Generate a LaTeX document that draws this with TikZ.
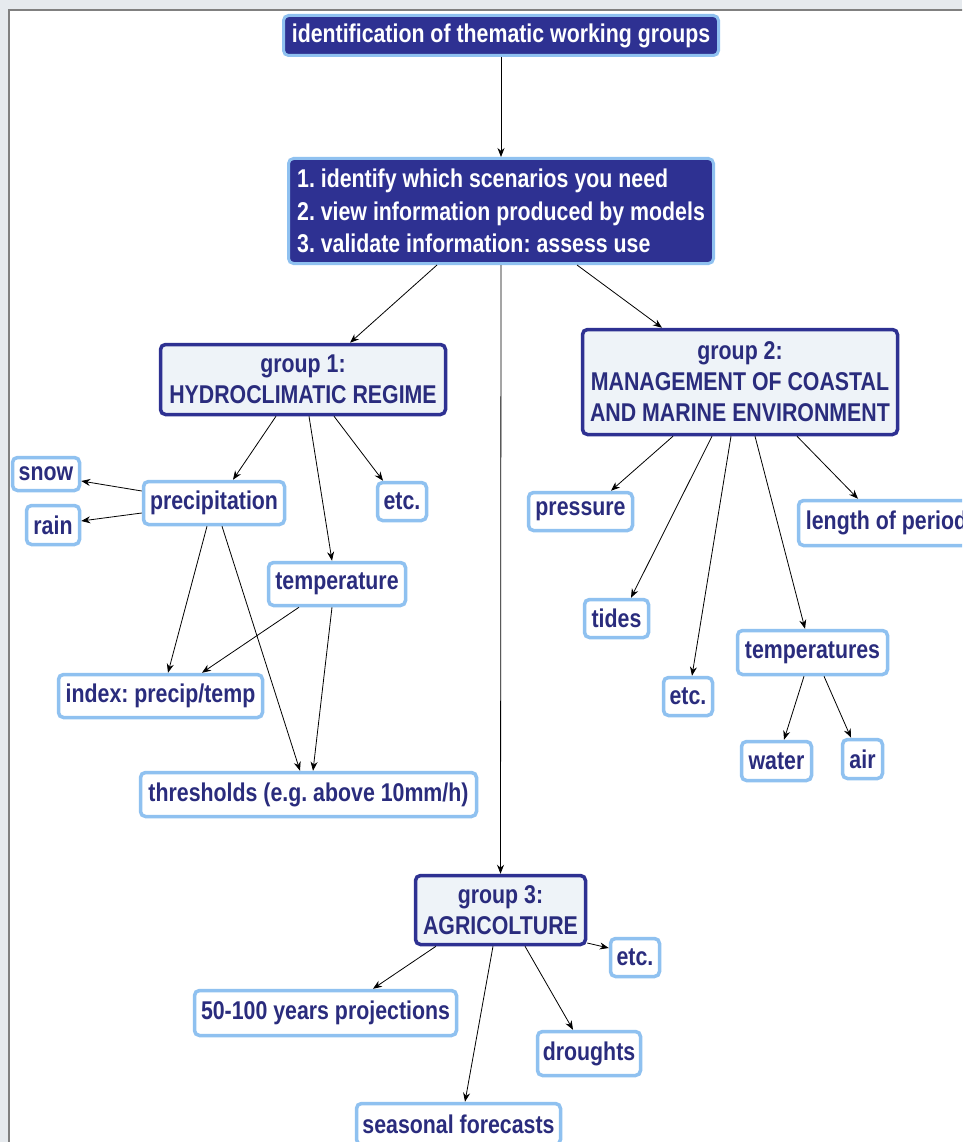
\documentclass[tikz,border=0pt]{standalone}
\usepackage{fontspec}
\setmainfont{Liberation Sans}[FakeStretch=0.83]
\usetikzlibrary{calc,arrows.meta}
\definecolor{navy}{RGB}{46,49,146}
\definecolor{navytext}{RGB}{42,44,125}
\definecolor{lblue}{RGB}{143,193,240}
\definecolor{gfill}{RGB}{238,243,248}
\definecolor{bggray}{RGB}{230,234,238}
\definecolor{framegray}{RGB}{128,128,128}
\frenchspacing
\begin{document}
\begin{tikzpicture}[x=1pt,y=-1pt,
  every node/.style={font=\fontsize{25.7}{31}\selectfont\bfseries, inner sep=0pt, rounded corners=5pt},
  darkbox/.style={fill=navy, draw=lblue, line width=3pt, text=white},
  grpbox/.style={fill=gfill, draw=navy, line width=3.5pt, text=navytext, align=center},
  leafbox/.style={fill=white, draw=lblue, line width=3.5pt, text=navytext},
  conn/.style={-{Stealth[length=9pt,width=7pt]}, line width=0.8pt, black}]
\useasboundingbox (0,0) rectangle (962,1142);
\clip (0,0) rectangle (962,1142);
% background
\fill[bggray] (0,0) rectangle (962,1142);
\fill[white] (9,10) rectangle (970,1150);
\draw[framegray, line width=2pt] (9,1150) -- (9,10) -- (970,10);

% top nodes
\node[darkbox, minimum width=435, minimum height=40] (top) at (501,35.5) {identification of thematic working groups};
\node[darkbox, minimum width=425, minimum height=105, align=left,
      font=\fontsize{25.7}{32.5}\selectfont\bfseries] (box2) at (501,211)
  {1. identify which scenarios you need\\2. view information produced by models\\3. validate information: assess use};

% groups
\node[grpbox, minimum width=285, minimum height=70] (g1) at (303,379.5) {group 1:\\HYDROCLIMATIC REGIME};
\node[grpbox, minimum width=315, minimum height=105] (g2) at (740,382) {group 2:\\MANAGEMENT OF COASTAL\\AND MARINE ENVIRONMENT};
\node[grpbox, minimum width=170, minimum height=69] (g3) at (500.5,910) {group 3:\\AGRICOLTURE};

% group 1 leaves
\node[leafbox, minimum width=67, minimum height=33] (snow) at (46,474) {snow};
\node[leafbox, minimum width=53, minimum height=39] (rain) at (53,525) {rain};
\node[leafbox, minimum width=141, minimum height=43] (prec) at (214,503) {precipitation};
\node[leafbox, minimum width=49, minimum height=38] (etca) at (402,501.5) {etc.};
\node[leafbox, minimum width=137, minimum height=43] (temp) at (337,584) {temperature};
\node[leafbox, minimum width=204, minimum height=43] (index) at (160.5,696) {index: precip/temp};
\node[leafbox, minimum width=336, minimum height=44] (thr) at (308.5,794.5) {thresholds (e.g. above 10mm/h)};

% group 2 leaves
\node[leafbox, minimum width=104, minimum height=38] (press) at (580.5,511.5) {pressure};
\node[leafbox, minimum width=176, minimum height=45] (length) at (886.5,523) {length of period};
\node[leafbox, minimum width=64, minimum height=38] (tides) at (616.5,618.5) {tides};
\node[leafbox, minimum width=49, minimum height=38] (etcb) at (688,696.5) {etc.};
\node[leafbox, minimum width=150, minimum height=44] (temps) at (812.5,652.5) {temperatures};
\node[leafbox, minimum width=70, minimum height=39] (water) at (776.5,761) {water};
\node[leafbox, minimum width=40, minimum height=39] (air) at (862.5,759) {air};

% group 3 leaves
\node[leafbox, minimum width=262, minimum height=45] (proj) at (325.5,1013) {50-100 years projections};
\node[leafbox, minimum width=49, minimum height=38] (etcc) at (635,957.5) {etc.};
\node[leafbox, minimum width=103, minimum height=44] (drought) at (589,1053.5) {droughts};
\node[leafbox, minimum width=204, minimum height=41] (seas) at (458.5,1124) {seasonal forecasts};

% connectors
\draw[conn] (top.south) -- (box2.north);
\draw[conn] ($(box2.south)+(-64,0)$) -- ($(g1.north)+(47,0)$);
\draw[conn] ($(box2.south)+(76,0)$) -- ($(g2.north)+(-78,0)$);
\draw[conn] (box2.south) -- (g3.north);

\draw[conn] ($(g1.south)+(-27,0)$) -- ($(prec.north)+(19,0)$);
\draw[conn] ($(g1.south)+(6,0)$) -- ($(temp.north)+(-5,0)$);
\draw[conn] ($(g1.south)+(31,0)$) -- ($(etca.north)+(-19,0)$);
\draw[conn] ($(prec.west)+(0,-12)$) -- ($(snow.east)+(0,7)$);
\draw[conn] ($(prec.west)+(0,10)$) -- ($(rain.east)+(0,-4)$);
\draw[conn] ($(prec.south)+(-7,0)$) -- ($(index.north)+(7.5,0)$);
\draw[conn] ($(prec.south)+(8,0)$) -- ($(thr.north)+(-8.5,0)$);
\draw[conn] ($(temp.south)+(-38,0)$) -- ($(index.north)+(41.5,0)$);
\draw[conn] ($(temp.south)+(-5,0)$) -- ($(thr.north)+(4.5,0)$);

\draw[conn] ($(g2.south)+(-67,0)$) -- ($(press.north)+(30.5,0)$);
\draw[conn] ($(g2.south)+(-28,0)$) -- ($(tides.north)+(14.5,0)$);
\draw[conn] ($(g2.south)+(-9,0)$) -- ($(etcb.north)+(4,0)$);
\draw[conn] ($(g2.south)+(15,0)$) -- ($(temps.north)+(-7.5,0)$);
\draw[conn] ($(g2.south)+(57,0)$) -- ($(length.north)+(-28.5,0)$);
\draw[conn] ($(temps.south)+(-8.5,0)$) -- ($(water.north)+(7.5,0)$);
\draw[conn] ($(temps.south)+(11.5,0)$) -- ($(air.north)+(-11.5,0)$);

\draw[conn] ($(g3.south)+(-64.5,0)$) -- ($(proj.north)+(47.5,0)$);
\draw[conn] ($(g3.south)+(-7.5,0)$) -- ($(seas.north)+(6.5,0)$);
\draw[conn] ($(g3.south)+(24.5,0)$) -- ($(drought.north)+(-16,0)$);
\draw[conn] ($(g3.east)+(0,33)$) -- ($(etcc.west)+(0,-9.5)$);
\end{tikzpicture}
\end{document}
